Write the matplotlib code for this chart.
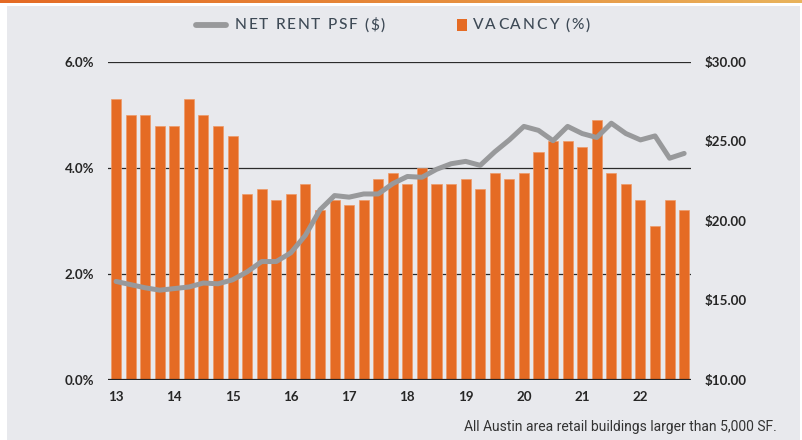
import numpy as np
import matplotlib
matplotlib.use("Agg")
import matplotlib.pyplot as plt
from matplotlib.patches import Rectangle
from matplotlib.lines import Line2D
from matplotlib.colors import LinearSegmentedColormap
from matplotlib.font_manager import FontProperties

# ---------------- data ----------------
year_labels = ["13", "14", "15", "16", "17", "18", "19", "20", "21", "22"]
vacancy_pct = [5.3, 5.0, 5.0, 4.8, 4.8, 5.3, 5.0, 4.8, 4.6, 3.5,
               3.6, 3.4, 3.5, 3.7, 3.2, 3.4, 3.3, 3.4, 3.8, 3.9,
               3.7, 4.0, 3.7, 3.7, 3.8, 3.6, 3.9, 3.8, 3.9, 4.3,
               4.5, 4.5, 4.4, 4.9, 3.9, 3.7, 3.4, 2.9, 3.4, 3.2]
net_rent = [16.2, 16.0, 15.8, 15.65, 15.75, 15.85, 16.1, 16.05, 16.3, 16.8,
            17.45, 17.45, 18.0, 19.1, 20.7, 21.6, 21.5, 21.7, 21.7, 22.35,
            22.8, 22.75, 23.25, 23.6, 23.75, 23.5, 24.35, 25.1, 25.95, 25.7,
            25.05, 25.95, 25.5, 25.25, 26.15, 25.5, 25.1, 25.35, 23.95, 24.25]
left_ticks = [0, 2, 4, 6]
left_tick_labels = ["0.0%", "2.0%", "4.0%", "6.0%"]
right_ticks = [10, 15, 20, 25, 30]
right_tick_labels = ["$10.00", "$15.00", "$20.00", "$25.00", "$30.00"]

ORANGE = "#e56b24"
GRAY_LINE = "#98999b"
BG = "#e8e9ed"
TXT = "#262626"
LEG_TXT = "#3e4a56"

W, H = 803, 440
fig = plt.figure(figsize=(W / 100, H / 100), dpi=100, facecolor="white")

# background panel
fig.add_artist(Rectangle((7 / W, 0), (800 - 7) / W, (H - 6) / H,
                         transform=fig.transFigure, facecolor=BG,
                         edgecolor="none", zorder=-10))
# top gradient stripe
gax = fig.add_axes([0, 1 - 3.5 / H, 1, 3.5 / H])
cmap = LinearSegmentedColormap.from_list("g", ["#e46a24", "#e6893a", "#e9b35c"])
gax.imshow(np.linspace(0, 1, 256)[None, :], aspect="auto", cmap=cmap,
           extent=[0, 1, 0, 1])
gax.set_axis_off()

# main axes
x0, x1 = 108, 691
y_bot, y_top = 380, 62
ax = fig.add_axes([x0 / W, (H - y_bot) / H, (x1 - x0) / W, (y_bot - y_top) / H])
ax.set_facecolor("none")
for s in ax.spines.values():
    s.set_visible(False)

x = np.arange(len(vacancy_pct))
ax.bar(x, vacancy_pct, width=0.69, color=ORANGE, edgecolor="#ee9a68",
       linewidth=0.5, zorder=2)
for t in left_ticks[1:]:
    ax.axhline(t, color="#2b2b2b", lw=0.9, zorder=1)
ax.axhline(0, color="#222222", lw=1.6, zorder=3)

ax.set_xlim(-0.55, len(vacancy_pct) - 1 + 0.47)
ax.set_ylim(0, 6)
ax.set_yticks(left_ticks)
ax.set_yticklabels(left_tick_labels)
ax.set_xticks(np.arange(0, len(vacancy_pct), 4))
ax.set_xticklabels(year_labels)
ax.tick_params(axis="y", length=0, pad=10, labelsize=9.6, labelcolor=TXT)
ax.tick_params(axis="x", length=0, pad=8, labelsize=9.6, labelcolor=TXT)
for lab in ax.get_yticklabels() + ax.get_xticklabels():
    lab.set_fontfamily("Lato")
    lab.set_fontweight("bold")

ax2 = ax.twinx()
for s in ax2.spines.values():
    s.set_visible(False)
ax2.plot(x, net_rent, color=GRAY_LINE, lw=3.6, solid_joinstyle="round",
         solid_capstyle="round", zorder=5)
ax2.set_ylim(10, 30)
ax2.set_yticks(right_ticks)
ax2.set_yticklabels(right_tick_labels)
ax2.tick_params(axis="y", length=0, pad=10, labelsize=9.6, labelcolor=TXT)
for lab in ax2.get_yticklabels():
    lab.set_fontfamily("Lato")
    lab.set_fontweight("bold")

# tracked (letter-spaced) text helper
renderer = fig.canvas.get_renderer()


def tracked_text(xpx, ypx, s, target_w, fp, color):
    ws = [renderer.get_text_width_height_descent(ch, fp, ismath=False)[0]
          for ch in s]
    ws = [w * 100.0 / fig.dpi for w in ws]
    track = (target_w - sum(ws)) / max(len(s) - 1, 1)
    cx = xpx
    for ch, w in zip(s, ws):
        if ch != " ":
            fig.text(cx / W, (H - ypx) / H, ch, fontproperties=fp,
                     color=color, ha="left", va="center")
        cx += w + track


leg_fp = FontProperties(family="Lato", size=11.2, weight="medium")

# legend (manual placement)
ly = (H - 25) / H
fig.add_artist(Line2D([196 / W, 226 / W], [ly, ly], transform=fig.transFigure,
                      color=GRAY_LINE, lw=4.2, solid_capstyle="round"))
tracked_text(235, 25, "NET RENT PSF ($)", 150, leg_fp, LEG_TXT)
fig.add_artist(Rectangle((457 / W, (H - 31) / H), 10 / W, 12 / H,
                         transform=fig.transFigure, facecolor=ORANGE,
                         edgecolor="none"))
tracked_text(473, 25, "VACANCY (%)", 117, leg_fp, LEG_TXT)

# footnote
fig.text(777 / W, (H - 427) / H,
         "All Austin area retail buildings larger than 5,000 SF.",
         fontsize=10, color="#333333",
         family=["Liberation Sans Narrow", "Roboto"], ha="right", va="center")

fig.savefig("out.png", dpi=100, facecolor="white")
